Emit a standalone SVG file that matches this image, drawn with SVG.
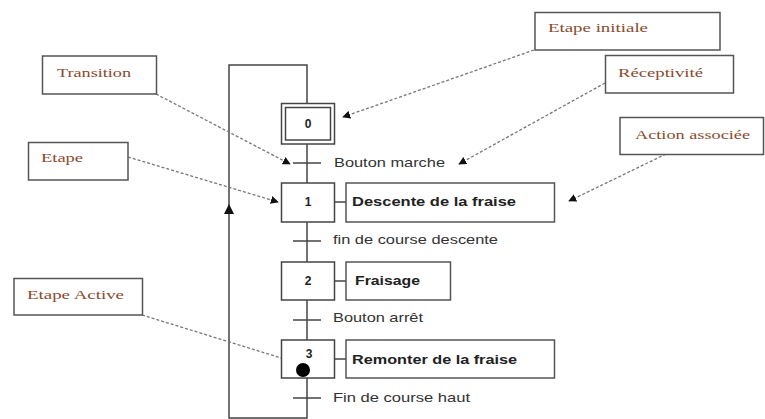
<svg xmlns="http://www.w3.org/2000/svg" width="765" height="419" viewBox="0 0 765 419">
<defs>
<marker id="tri" viewBox="0 0 10 10" refX="9" refY="5" markerWidth="8" markerHeight="8" markerUnits="userSpaceOnUse" orient="auto">
<path d="M0,0 L10,5 L0,10 Z" fill="#111"/>
</marker>
</defs>
<style>
.box{fill:#fff;stroke:#555;stroke-width:1.5}
.step{fill:#fff;stroke:#444;stroke-width:1.5}
.line{fill:none;stroke:#444;stroke-width:1.5}
.dash{fill:none;stroke:#777;stroke-width:1.3;stroke-dasharray:3 2}
.lbl{font-family:"Liberation Serif",serif;font-size:13px;fill:#8a4a2e}
.num{font-family:"Liberation Sans",Arial,sans-serif;font-size:12px;font-weight:bold;fill:#222;text-anchor:middle}
.act{font-family:"Liberation Sans",Arial,sans-serif;font-size:13px;font-weight:bold;fill:#222}
.rec{font-family:"Liberation Sans",Arial,sans-serif;font-size:13px;fill:#333}
</style>
<rect width="765" height="419" fill="#fff"/>

<g id="connectors">
<path class="line" d="M307,378 V418 H229 V65 H307 V103"/>
<path d="M229,204 L224,214 L234,214 Z" fill="#111"/>
<line class="line" x1="307" y1="144" x2="307" y2="183"/>
<line class="line" x1="307" y1="222" x2="307" y2="262"/>
<line class="line" x1="307" y1="300" x2="307" y2="340"/>
<line class="line" x1="293" y1="163" x2="321" y2="163"/>
<line class="line" x1="293" y1="241" x2="321" y2="241"/>
<line class="line" x1="293" y1="320" x2="321" y2="320"/>
<line class="line" x1="293" y1="398" x2="321" y2="398"/>
<line class="line" x1="334" y1="202" x2="346" y2="202"/>
<line class="line" x1="334" y1="281" x2="346" y2="281"/>
<line class="line" x1="334" y1="359" x2="346" y2="359"/>
<line class="dash" x1="156" y1="94" x2="290" y2="164" marker-end="url(#tri)"/>
<line class="dash" x1="128" y1="157" x2="278" y2="202" marker-end="url(#tri)"/>
<line class="dash" x1="534" y1="50" x2="343" y2="117" marker-end="url(#tri)"/>
<line class="dash" x1="605" y1="83" x2="459" y2="164" marker-end="url(#tri)"/>
<line class="dash" x1="666" y1="154" x2="569" y2="201" marker-end="url(#tri)"/>
<line class="dash" x1="142" y1="315" x2="291" y2="361" marker-end="url(#tri)"/>
</g>

<g id="step0">
<rect class="step" x="281.5" y="103.5" width="53" height="40.5"/>
<rect class="step" x="285.5" y="107.5" width="45" height="32.5"/>
<text class="num" x="308" y="128">0</text>
</g>
<g id="step1">
<rect class="step" x="281.5" y="183" width="53" height="39"/>
<text class="num" x="308" y="206">1</text>
</g>
<g id="step2">
<rect class="step" x="281.5" y="262" width="53" height="38"/>
<text class="num" x="308" y="285">2</text>
</g>
<g id="step3">
<rect class="step" x="281.5" y="340" width="53" height="38"/>
<text class="num" x="309" y="358">3</text>
<circle cx="303" cy="370" r="7" fill="#000"/>
</g>

<g id="action1">
<rect class="box" x="346" y="183" width="208.5" height="39"/>
<text class="act" x="352" y="206" textLength="164" lengthAdjust="spacingAndGlyphs">Descente de la fraise</text>
</g>
<g id="action2">
<rect class="box" x="346" y="262" width="104.5" height="38"/>
<text class="act" x="355" y="285" textLength="65" lengthAdjust="spacingAndGlyphs">Fraisage</text>
</g>
<g id="action3">
<rect class="box" x="346" y="340" width="208.5" height="38"/>
<text class="act" x="352" y="364" textLength="165" lengthAdjust="spacingAndGlyphs">Remonter de la fraise</text>
</g>

<g id="receptivites">
<text class="rec" x="334" y="167" textLength="111" lengthAdjust="spacingAndGlyphs">Bouton marche</text>
<text class="rec" x="333" y="244" textLength="165" lengthAdjust="spacingAndGlyphs">fin de course descente</text>
<text class="rec" x="333" y="322" textLength="90" lengthAdjust="spacingAndGlyphs">Bouton arrêt</text>
<text class="rec" x="333" y="402" textLength="137" lengthAdjust="spacingAndGlyphs">Fin de course haut</text>
</g>

<g id="label-transition">
<rect class="box" x="42.5" y="56" width="114" height="38"/>
<text class="lbl" x="57" y="77" textLength="74" lengthAdjust="spacingAndGlyphs">Transition</text>
</g>
<g id="label-etape">
<rect class="box" x="28.5" y="142.5" width="99.5" height="37.5"/>
<text class="lbl" x="41" y="162" textLength="42" lengthAdjust="spacingAndGlyphs">Etape</text>
</g>
<g id="label-etape-initiale">
<rect class="box" x="535" y="12.5" width="185" height="37.5"/>
<text class="lbl" x="548" y="32" textLength="100" lengthAdjust="spacingAndGlyphs">Etape initiale</text>
</g>
<g id="label-receptivite">
<rect class="box" x="605.5" y="55.5" width="128" height="37.5"/>
<text class="lbl" x="618" y="77" textLength="85" lengthAdjust="spacingAndGlyphs">Réceptivité</text>
</g>
<g id="label-action">
<rect class="box" x="620" y="117.5" width="143.5" height="37"/>
<text class="lbl" x="635" y="139" textLength="115" lengthAdjust="spacingAndGlyphs">Action associée</text>
</g>
<g id="label-etape-active">
<rect class="box" x="14" y="278.5" width="128.5" height="36.5"/>
<text class="lbl" x="27" y="299" textLength="97" lengthAdjust="spacingAndGlyphs">Etape Active</text>
</g>
</svg>
